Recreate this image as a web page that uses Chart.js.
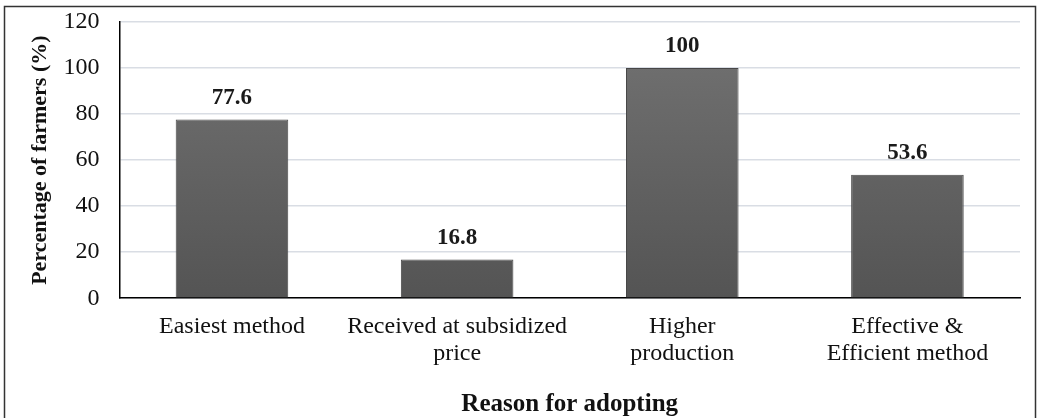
<!DOCTYPE html>
<html>
<head>
<meta charset="utf-8">
<script src="https://cdn.jsdelivr.net/npm/chart.js@4/dist/chart.umd.min.js"></script>
<style>
  html, body { margin: 0; padding: 0; background: #fff; }
  #wrap { width: 1041px; height: 418px; position: relative; }
</style>
</head>
<body>
<div id="wrap"><canvas id="chart" width="1041" height="418"></canvas></div>
<script>
// data
const categories = [
  ['Easiest method'],
  ['Received at subsidized', 'price'],
  ['Higher', 'production'],
  ['Effective &', 'Efficient method'],
];
const percentFarmers = [77.6, 16.8, 100, 53.6];
const yTicks = [0, 20, 40, 60, 80, 100, 120];

const SERIF = '"Liberation Serif", "Times New Roman", serif';

// bar fill: lighter grey at top, darker at the base
function barGradient(ctx) {
  const area = ctx.chart.chartArea;
  if (!area) return '#606060';
  const g = ctx.chart.ctx.createLinearGradient(0, area.top, 0, area.bottom);
  g.addColorStop(0, '#737373');
  g.addColorStop(1, '#545454');
  return g;
}

const valueLabels = {
  id: 'valueLabels',
  afterDatasetsDraw(chart) {
    const c = chart.ctx;
    const meta = chart.getDatasetMeta(0);
    c.save();
    c.font = 'bold 23px ' + SERIF;
    c.fillStyle = '#1a1a1a';
    c.textAlign = 'center';
    c.textBaseline = 'alphabetic';
    meta.data.forEach((bar, i) => {
      c.fillText(String(percentFarmers[i]), bar.x, bar.y - 16);
    });
    c.restore();
  },
};

const frame = {
  id: 'frame',
  afterDraw(chart) {
    const c = chart.ctx;
    c.save();
    c.strokeStyle = '#333';
    c.lineWidth = 1.5;
    c.strokeRect(4.5, 6.5, 1031, 430);
    c.restore();
  },
};

new Chart(document.getElementById('chart'), {
  type: 'bar',
  data: {
    labels: categories,
    datasets: [{
      data: percentFarmers,
      backgroundColor: barGradient,
      borderColor: '#474747',
      borderWidth: 1,
      categoryPercentage: 1,
      barPercentage: 0.5,
    }],
  },
  options: {
    responsive: false,
    animation: false,
    layout: { padding: { top: 22, right: 21, left: 27, bottom: 0 } },
    plugins: { legend: { display: false }, tooltip: { enabled: false } },
    scales: {
      x: {
        grid: { display: false, drawTicks: false },
        border: { color: '#000', width: 1.5 },
        ticks: { color: '#111', font: { family: SERIF, size: 24, lineHeight: 1.12 }, padding: 15, maxRotation: 0, autoSkip: false },
        title: { display: true, text: 'Reason for adopting', color: '#111', font: { family: SERIF, size: 25, weight: 'bold' }, padding: { top: 8, bottom: -2 } },
      },
      y: {
        min: 0, max: 120,
        afterBuildTicks(axis) { axis.ticks = yTicks.map(v => ({ value: v })); },
        afterFit(axis) { axis.paddingTop = 0; },
        grid: { color: '#d9dde4', lineWidth: 1.5, drawTicks: false },
        border: { color: '#000', width: 1.5 },
        ticks: { color: '#111', font: { family: SERIF, size: 24 }, padding: 20 },
        title: { display: true, text: 'Percentage of farmers (%)', color: '#111', font: { family: SERIF, size: 22, weight: 'bold' }, padding: { top: 0, bottom: -10 } },
      },
    },
  },
  plugins: [valueLabels, frame],
});
</script>
</body>
</html>
